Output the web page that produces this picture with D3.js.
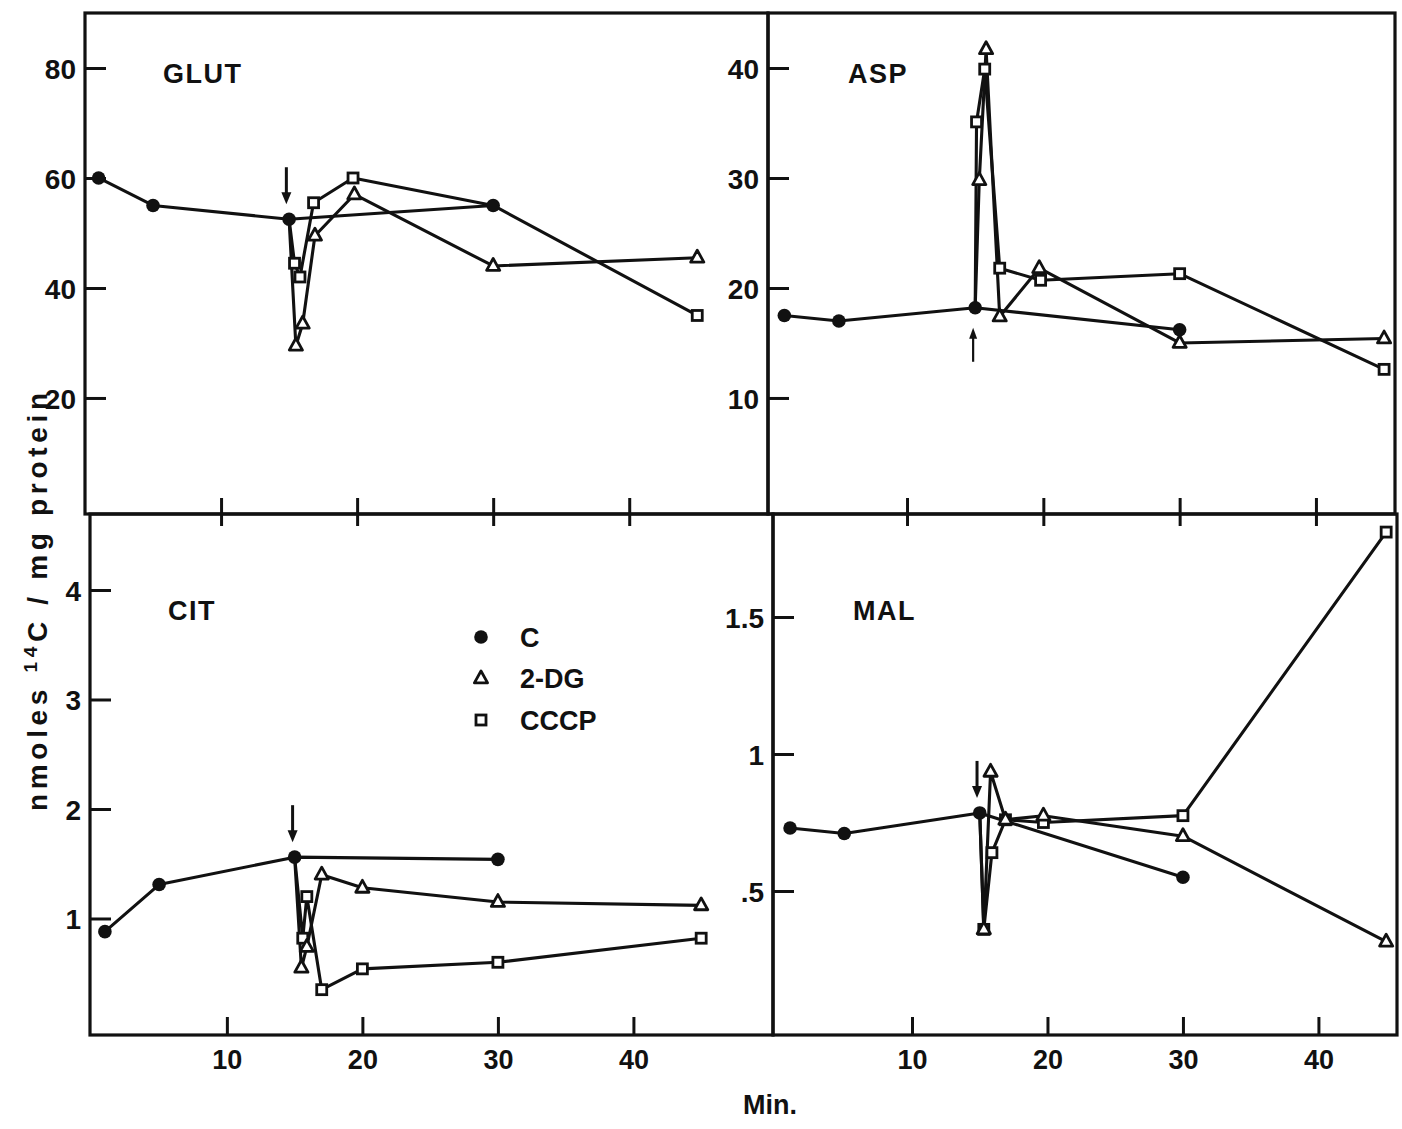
<!DOCTYPE html>
<meta charset="utf-8">
<script src="https://d3js.org/d3.v7.min.js"></script>
<style>
  body { margin: 0; background: #fff; }
  text { font-family: "Liberation Sans", Arial, sans-serif; font-weight: bold; fill: #111; }
</style>
<svg id="chart" width="1402" height="1129"></svg>
<script>
// time (min) / value pairs, one array per series and panel
var glutC    = [[1, 60], [5, 55], [15, 52.5], [30, 55]];
var glutDG   = [[15, 52.5], [15.5, 29.5], [16, 33.5], [16.9, 49.5], [19.8, 57], [30, 44], [45, 45.5]];
var glutCCCP = [[15, 52.5], [15.4, 44.5], [15.8, 42], [16.8, 55.5], [19.7, 60], [30, 55], [45, 35]];

var aspC     = [[1, 17.5], [5, 17], [15, 18.2], [30, 16.2]];
var aspDG    = [[15, 18.2], [15.3, 29.8], [15.8, 41.7], [16.8, 17.4], [19.7, 21.8], [30, 15], [45, 15.4]];
var aspCCCP  = [[15, 18.2], [15.1, 35.1], [15.7, 39.9], [16.8, 21.8], [19.8, 20.7], [30, 21.3], [45, 12.6]];

var citC     = [[1, 0.88], [5, 1.31], [15, 1.56], [30, 1.54]];
var citDG    = [[15, 1.56], [15.5, 0.55], [15.9, 0.74], [17, 1.4], [20, 1.28], [30, 1.15], [45, 1.12]];
var citCCCP  = [[15, 1.56], [15.6, 0.82], [15.9, 1.2], [17, 0.35], [20, 0.54], [30, 0.6], [45, 0.82]];

var malC     = [[1, 0.73], [5, 0.71], [15, 0.785], [30, 0.55]];
var malDG    = [[15, 0.785], [15.3, 0.36], [15.8, 0.935], [16.9, 0.76], [19.7, 0.775], [30, 0.70], [45, 0.315]];
var malCCCP  = [[15, 0.785], [15.3, 0.36], [15.9, 0.64], [16.9, 0.76], [19.7, 0.75], [30, 0.775], [45, 1.81]];

var panelNames = ["GLUT", "ASP", "CIT", "MAL"];
var xTicks = [10, 20, 30, 40];
var glutTicks = [20, 40, 60, 80];
var aspTicks = [10, 20, 30, 40];
var citTicks = [1, 2, 3, 4];
var malTicks = [0.5, 1, 1.5];
var malTickLabels = [".5", "1", "1.5"];
var legendNames = ["C", "2-DG", "CCCP"];
var addTime = [14.8, 14.85, 14.85, 14.8];   // arrow: time of addition

var svg = d3.select("#chart");
svg.append("rect").attr("width", 1402).attr("height", 1129).attr("fill", "#fff");

// panel boxes (pixel layout) and their axis domains
var panels = [
  { name: panelNames[0], box: [85, 13, 768, 514],  xd: [0, 50.2],     yd: [-1.1, 90],      ticks: glutTicks, fmt: d3.format("d"), series: [glutC, glutDG, glutCCCP], bottom: false, arrow: "down" },
  { name: panelNames[1], box: [768, 13, 1395, 514], xd: [-0.2, 45.8],  yd: [-0.55, 45],     ticks: aspTicks,  fmt: d3.format("d"), series: [aspC, aspDG, aspCCCP],    bottom: false, arrow: "up" },
  { name: panelNames[2], box: [90, 514, 773, 1035], xd: [-0.1, 50.3],  yd: [-0.064, 4.694], ticks: citTicks,  fmt: d3.format("d"), series: [citC, citDG, citCCCP],    bottom: true,  arrow: "down" },
  { name: panelNames[3], box: [773, 514, 1397, 1035], xd: [-0.26, 45.8], yd: [-0.0255, 1.876], ticks: malTicks, fmt: function(d) { return malTickLabels[malTicks.indexOf(d)]; }, series: [malC, malDG, malCCCP], bottom: true, arrow: "down" }
];

var triPath = "M0,-7.5L6.6,4.4L-6.6,4.4Z";

function drawMarker(g, kind, x, y) {
  if (kind === 0) {
    g.append("circle").attr("cx", x).attr("cy", y).attr("r", 6.8).attr("fill", "#111");
  } else if (kind === 1) {
    g.append("path").attr("d", triPath).attr("transform", "translate(" + x + "," + y + ")")
      .attr("fill", "#fff").attr("stroke", "#111").attr("stroke-width", 2.8).attr("stroke-linejoin", "round");
  } else {
    g.append("rect").attr("x", x - 5).attr("y", y - 5).attr("width", 10).attr("height", 10)
      .attr("fill", "#fff").attr("stroke", "#111").attr("stroke-width", 2.8);
  }
}

panels.forEach(function(p, pi) {
  var L = p.box[0], T = p.box[1], R = p.box[2], B = p.box[3];
  var x = d3.scaleLinear().domain(p.xd).range([L, R]);
  var y = d3.scaleLinear().domain(p.yd).range([B, T]);
  var g = svg.append("g");

  // y axis, ticks pointing inward
  var ya = g.append("g").attr("transform", "translate(" + L + ",0)")
    .call(d3.axisLeft(y).tickValues(p.ticks).tickFormat(p.fmt).tickSizeInner(-21).tickSizeOuter(0).tickPadding(9));
  ya.select(".domain").remove();
  ya.selectAll("line").attr("stroke", "#111").attr("stroke-width", 3);
  ya.selectAll("text").style("font-size", "28px").attr("dy", "0.36em");

  // x axis
  var xa = g.append("g").attr("transform", "translate(0," + B + ")")
    .call(d3.axisBottom(x).tickValues(xTicks).tickSizeOuter(0).tickSizeInner(p.bottom ? -18 : 0).tickPadding(15));
  xa.select(".domain").remove();
  xa.selectAll("line").attr("stroke", "#111").attr("stroke-width", 3);
  if (p.bottom) {
    xa.selectAll("text").style("font-size", "27px");
  } else {
    xa.selectAll("text").remove();
    xa.selectAll("line").attr("y1", -16).attr("y2", 12);
  }

  // frame
  g.append("rect").attr("x", L).attr("y", T).attr("width", R - L).attr("height", B - T)
    .attr("fill", "none").attr("stroke", "#111").attr("stroke-width", 3.2);

  // panel name
  g.append("text").attr("x", x(p.xd[0]) + (pi % 2 === 0 ? 78 : 80)).attr("y", T + (pi < 2 ? 70 : 106))
    .style("font-size", "27px").style("letter-spacing", "1.5px").text(p.name);

  var line = d3.line().x(function(d) { return x(d[0]); }).y(function(d) { return y(d[1]); });

  // lines: CCCP, 2-DG, then control on top
  [2, 1, 0].forEach(function(k) {
    g.append("path").datum(p.series[k]).attr("d", line)
      .attr("fill", "none").attr("stroke", "#111").attr("stroke-width", 3.1).attr("stroke-linejoin", "round");
  });
  var ctrl = p.series[0];
  [2, 1, 0].forEach(function(k) {
    p.series[k].forEach(function(d) {
      // a treated point sitting on a control point is hidden under the dot
      if (k > 0 && ctrl.some(function(c) { return c[0] === d[0] && Math.abs(y(c[1]) - y(d[1])) < 4; })) return;
      drawMarker(g, k, x(d[0]), y(d[1]));
    });
  });

  // arrow marking the addition
  var c15 = ctrl.filter(function(d) { return d[0] === 15; })[0];
  var ax = x(addTime[pi]), cy = y(c15[1]);
  if (p.arrow === "down") {
    var tip = cy - 15;
    g.append("line").attr("x1", ax).attr("x2", ax).attr("y1", tip - 37).attr("y2", tip - 9)
      .attr("stroke", "#111").attr("stroke-width", 3);
    g.append("path").attr("d", "M" + (ax - 5) + "," + (tip - 12) + "L" + (ax + 5) + "," + (tip - 12) + "L" + ax + "," + tip + "Z").attr("fill", "#111");
  } else {
    var tipU = cy + 20;
    g.append("line").attr("x1", ax).attr("x2", ax).attr("y1", tipU + 8).attr("y2", tipU + 34)
      .attr("stroke", "#111").attr("stroke-width", 2.2);
    g.append("path").attr("d", "M" + (ax - 4) + "," + (tipU + 11) + "L" + (ax + 4) + "," + (tipU + 11) + "L" + ax + "," + tipU + "Z").attr("fill", "#111");
  }
});

// legend (inside CIT panel)
var lg = svg.append("g");
legendNames.forEach(function(name, i) {
  var ly = 637 + i * 41.5;
  drawMarker(lg, i, 481, ly);
  lg.append("text").attr("x", 520).attr("y", ly).attr("dy", "0.36em")
    .style("font-size", "27px").text(name);
});

// axis titles
svg.append("text").attr("x", 770).attr("y", 1104).attr("text-anchor", "middle").attr("dy", "0.36em")
  .style("font-size", "27px").text("Min.");

var yt = svg.append("text").attr("transform", "translate(47,602) rotate(-90)")
  .attr("text-anchor", "middle").style("font-size", "28px")
  .attr("textLength", 418).attr("lengthAdjust", "spacing");
yt.append("tspan").text("nmoles ");
yt.append("tspan").attr("dy", "-10").style("font-size", "19px").text("14");
yt.append("tspan").attr("dy", "10").text("C / mg protein");
</script>
